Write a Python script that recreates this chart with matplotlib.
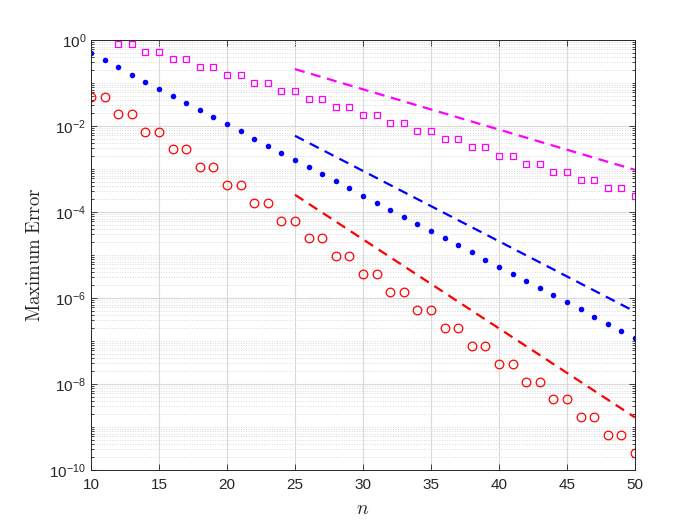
import matplotlib
matplotlib.use("Agg")
import matplotlib.pyplot as plt
from matplotlib.ticker import LogLocator, FixedLocator, NullFormatter
import numpy as np

plt.rcParams["font.family"] = ["Liberation Sans", "DejaVu Sans"]
plt.rcParams["mathtext.fontset"] = "cm"

# --- data ---
n_blue = list(range(10, 51))
err_blue = [0.49, 0.334, 0.229, 0.156, 0.107, 0.0729, 0.0498, 0.0340, 0.0232, 0.0159,
            0.0108, 7.41e-3, 5.06e-3, 3.45e-3, 2.36e-3, 1.61e-3, 1.10e-3, 7.52e-4, 5.14e-4, 3.51e-4,
            2.40e-4, 1.64e-4, 1.12e-4, 7.65e-5, 5.22e-5, 3.57e-5, 2.44e-5, 1.66e-5, 1.14e-5, 7.77e-6,
            5.31e-6, 3.63e-6, 2.48e-6, 1.69e-6, 1.16e-6, 7.90e-7, 5.40e-7, 3.68e-7, 2.52e-7, 1.72e-7,
            1.17e-7]

n_red = list(range(10, 51))
err_red = [4.7e-2, 4.7e-2, 1.86e-2, 1.86e-2, 7.1e-3, 7.1e-3, 2.95e-3, 2.95e-3, 1.12e-3, 1.12e-3,
           4.2e-4, 4.2e-4, 1.58e-4, 1.58e-4, 6.0e-5, 6.0e-5, 2.45e-5, 2.45e-5, 9.3e-6, 9.3e-6,
           3.55e-6, 3.55e-6, 1.35e-6, 1.35e-6, 5.1e-7, 5.1e-7, 2.0e-7, 2.0e-7, 7.6e-8, 7.6e-8,
           2.9e-8, 2.9e-8, 1.1e-8, 1.1e-8, 4.4e-9, 4.4e-9, 1.7e-9, 1.7e-9, 6.5e-10, 6.5e-10,
           2.45e-10]

n_mag = list(range(12, 51))
err_mag = [0.79, 0.79, 0.52, 0.52, 0.356, 0.356, 0.236, 0.236, 0.151, 0.151,
           0.098, 0.098, 0.065, 0.065, 0.042, 0.042, 0.0272, 0.0272, 0.0178, 0.0178,
           0.0115, 0.0115, 7.6e-3, 7.6e-3, 4.9e-3, 4.9e-3, 3.16e-3, 3.16e-3, 2.0e-3, 2.0e-3,
           1.29e-3, 1.29e-3, 8.3e-4, 8.3e-4, 5.5e-4, 5.5e-4, 3.55e-4, 3.55e-4, 2.34e-4]

n_ref = [25, 50]
ref_mag = [0.209, 9.5e-4]
ref_blue = [5.9e-3, 4.8e-7]
ref_red = [2.5e-4, 1.66e-9]

fig = plt.figure(figsize=(7, 5.25), dpi=100)
ax = fig.add_axes([0.13, 0.105, 0.777, 0.819])

ax.semilogy(n_ref, ref_mag, "--", color="#FF00FF", lw=1.6, dashes=(4.5, 3))
ax.semilogy(n_ref, ref_blue, "--", color="#0000FF", lw=1.6, dashes=(4.5, 3))
ax.semilogy(n_ref, ref_red, "--", color="#FF0000", lw=1.6, dashes=(4.5, 3))

ax.semilogy(n_blue, err_blue, "o", color="#0000FF", markersize=4, markeredgewidth=0)
ax.semilogy(n_red, err_red, "o", color="#FF0000", markerfacecolor="none",
            markersize=6.2, markeredgewidth=0.9)
ax.semilogy(n_mag, err_mag, "s", color="#FF00FF", markerfacecolor="none",
            markersize=5, markeredgewidth=0.9)

ax.set_xlim(10, 50)
ax.set_ylim(1e-10, 1e0)
ax.set_xticks(range(10, 51, 5))
ax.yaxis.set_major_locator(FixedLocator([10.0 ** k for k in range(-10, 1, 2)]))
ax.yaxis.set_minor_locator(LogLocator(base=10, subs=np.arange(1, 10), numticks=100))
ax.yaxis.set_minor_formatter(NullFormatter())
ax.set_yticklabels([r"$\mathregular{10^{%d}}$" % k for k in range(-10, 1, 2)])

ax.grid(True, which="major", color="#d9d9d9", lw=0.8, ls="-")
ax.grid(True, which="minor", axis="y", color="#d9d9d9", lw=0.7, ls=":")
ax.set_axisbelow(True)

ax.tick_params(which="both", direction="in", top=True, right=True,
               labelsize=11, colors="#262626", width=0.6)
ax.tick_params(which="major", length=4)
ax.tick_params(which="minor", length=2)
ax.tick_params(axis="x", pad=6)
for s in ax.spines.values():
    s.set_color("#262626")
    s.set_linewidth(0.7)

ax.set_xlabel(r"$n$", fontsize=14, color="#262626", labelpad=6)
ax.set_ylabel(r"$\mathrm{Maximum\ Error}$", fontsize=13.5, color="#262626")

fig.savefig("out.png", dpi=100)
